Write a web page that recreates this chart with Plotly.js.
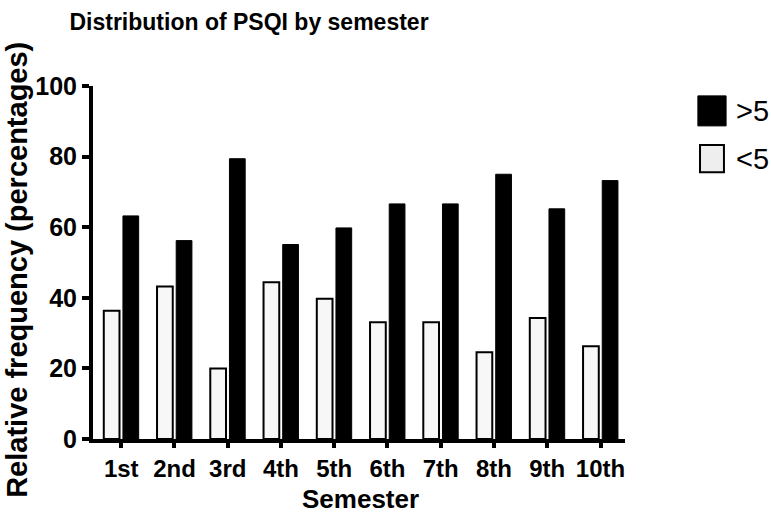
<!DOCTYPE html>
<html>
<head>
<meta charset="utf-8">
<script src="https://cdn.plot.ly/plotly-3.0.1.min.js"></script>
<style>
  body { margin: 0; background: #fff; }
  #chart { width: 771px; height: 515px; }
</style>
</head>
<body>
<div id="chart"></div>
<script>
var semesters = ['1st', '2nd', '3rd', '4th', '5th', '6th', '7th', '8th', '9th', '10th'];
var below5 = [36.3, 43.2, 20.0, 44.4, 39.7, 33.1, 33.1, 24.6, 34.3, 26.3];
var above5 = [63.2, 56.2, 79.4, 55.1, 59.8, 66.6, 66.6, 75.0, 65.2, 73.2];

var boldFont = 'Arial, "Liberation Sans", sans-serif';

var data = [{
    x: semesters,
    y: below5,
    name: '<5',
    type: 'bar',
    showlegend: false,
    marker: {
        color: '#f7f7f7',
        line: { color: '#000', width: 2 }
    }
}, {
    x: semesters,
    y: above5,
    name: '>5',
    type: 'bar',
    showlegend: false,
    marker: {
        color: '#000',
        line: { color: '#000', width: 1 }
    }
}];

var layout = {
    width: 771,
    height: 515,
    margin: { l: 93, r: 146, t: 86, b: 76 },
    paper_bgcolor: '#fff',
    plot_bgcolor: '#fff',
    barmode: 'group',
    bargap: 0.28,
    bargroupgap: 0.18,
    font: { family: boldFont, color: '#000' },
    title: {
        text: '<b>Distribution of PSQI by semester</b>',
        font: { family: boldFont, size: 23, color: '#000' },
        xref: 'container', yref: 'container',
        x: 0.323, y: 0.957, xanchor: 'center', yanchor: 'middle'
    },
    xaxis: {
        range: [-0.53, 9.46],
        showgrid: false,
        zeroline: false,
        showline: true,
        linecolor: '#000',
        linewidth: 4,
        ticks: 'outside',
        ticklen: 5,
        tickwidth: 4,
        tickcolor: '#000',
        tickfont: { size: 24, family: boldFont, weight: 'bold' }
    },
    yaxis: {
        range: [0, 100],
        tickvals: [0, 20, 40, 60, 80, 100],
        showgrid: false,
        zeroline: false,
        showline: true,
        linecolor: '#000',
        linewidth: 4,
        ticks: 'outside',
        ticklen: 7,
        tickwidth: 4,
        tickcolor: '#000',
        tickfont: { size: 25, family: boldFont, weight: 'bold' }
    },
    // legend drawn by hand so the swatches keep their large size
    shapes: [{
        type: 'rect', xref: 'paper', yref: 'paper',
        x0: 1.137, x1: 1.190, y0: 0.887, y1: 0.972,
        fillcolor: '#000', line: { color: '#000', width: 1 }
    }, {
        type: 'rect', xref: 'paper', yref: 'paper',
        x0: 1.141, x1: 1.186, y0: 0.756, y1: 0.833,
        fillcolor: '#eeeeee', line: { color: '#000', width: 2 }
    }],
    annotations: [{
        text: '>5', xref: 'paper', yref: 'paper',
        x: 1.205, y: 0.929, xanchor: 'left', yanchor: 'middle',
        showarrow: false, font: { size: 29, family: boldFont, color: '#000' }
    }, {
        text: '<5', xref: 'paper', yref: 'paper',
        x: 1.205, y: 0.793, xanchor: 'left', yanchor: 'middle',
        showarrow: false, font: { size: 29, family: boldFont, color: '#000' }
    }, {
        // axis titles as annotations to place them exactly
        text: '<b>Semester</b>', xref: 'paper', yref: 'paper',
        x: 0.503, y: -0.215, xanchor: 'center', yanchor: 'bottom', borderpad: 0,
        showarrow: false, font: { size: 26, family: boldFont, color: '#000' }
    }, {
        text: '<b>Relative frequency (percentages)</b>', xref: 'paper', yref: 'paper',
        x: -0.143, y: 0.479, xanchor: 'center', yanchor: 'middle', textangle: -90,
        showarrow: false, font: { size: 29, family: boldFont, color: '#000' }
    }]
};

var config = {
    responsive: false,
    displayModeBar: false
};

Plotly.newPlot('chart', data, layout, config);
</script>
</body>
</html>
